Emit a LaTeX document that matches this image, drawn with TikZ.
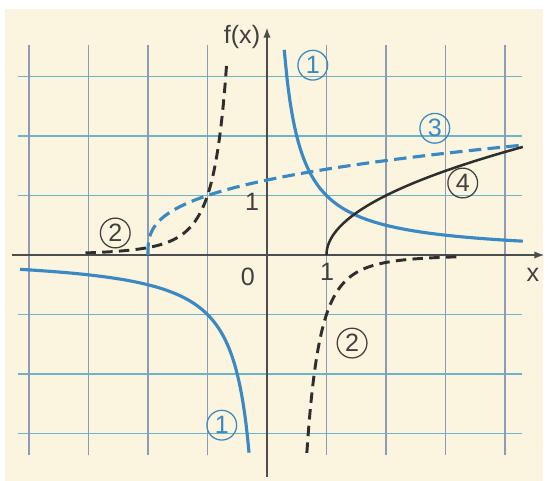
\documentclass[tikz,border=0pt]{standalone}
\usepackage{fontspec}
\setmainfont{Liberation Sans}
\usetikzlibrary{arrows.meta}
\definecolor{paper}{HTML}{FBF4DE}
\definecolor{hgrid}{HTML}{6DB3C9}
\definecolor{vgrid}{HTML}{8E9BB5}
\definecolor{curveblue}{HTML}{3A88C4}
\definecolor{ink}{HTML}{2E2E2E}
\definecolor{txt}{HTML}{404040}
\tikzset{
  hline/.style={hgrid, line width=0.9pt},
  vline/.style={vgrid, line width=0.9pt},
  axisline/.style={ink!85, line width=1.1pt},
  bluesolid/.style={curveblue, line width=1.5pt},
  bluedash/.style={curveblue, line width=1.5pt, dash pattern=on 6pt off 3pt},
  blacksolid/.style={ink, line width=1.2pt},
  blackdash/.style={ink, line width=1.4pt, dash pattern=on 5pt off 3pt},
  lab/.style={text=txt, font=\fontsize{12}{12}\selectfont, inner sep=0pt},
  circlab/.style={draw, circle, line width=0.6pt, minimum size=0.5cm, inner sep=0pt, font=\fontsize{12}{12}\selectfont},
}
\begin{document}
\begin{tikzpicture}[x=1cm,y=1cm]
\useasboundingbox (-4.487,-3.798) rectangle (4.723,4.286);
\fill[white] (-4.487,-3.798) rectangle (4.723,4.286);
\fill[paper] (-4.40,-3.798) rectangle (4.64,4.14);
% grid
\foreach \y in {-3,-2,-1,1,2,3} \draw[hline] (-4.18,\y) -- (4.29,\y);
\foreach \x in {-4,-3,-2,-1,1,2,3,4} \draw[vline] (\x,-3.36) -- (\x,3.53);
% axes
\coordinate (xs) at (-4.29,0);
\coordinate (xe) at (4.67,0);
\coordinate (ys) at (0,-3.73);
\coordinate (ye) at (0,3.83);
\draw[axisline, -{Latex[length=5pt,width=3.5pt]}] (xs) -- (xe);
\draw[axisline, -{Latex[length=5pt,width=3.5pt]}] (ys) -- (ye);
% curve 1: 1/x
\draw[bluesolid] plot[smooth, samples=80, domain=0.29:4.3] (\x,{1/\x});
\draw[bluesolid] plot[smooth, samples=80, domain=-4.15:-0.3] (\x,{1/\x});
% curve 2: -1/x^3
\draw[blackdash] plot[smooth, samples=80, domain=-3.05:-0.675] (\x,{-1/(\x*\x*\x)});
\draw[blackdash] plot[smooth, samples=80, domain=0.67:3.2] (\x,{-1/(\x*\x*\x)});
% curve 3: cube root of (x+2)
\draw[bluedash] plot[smooth, samples=80, variable=\t, domain=0:1.847] ({\t*\t*\t-2},{\t});
% curve 4: sqrt(x-1)
\draw[blacksolid] plot[smooth, samples=80, variable=\t, domain=0:1.817] ({1+\t*\t},{\t});
% labels
\node[lab] (fx) at (-0.42,3.66) {f(x)};
\node[lab] (xl) at (4.47,-0.34) {x};
\node[lab] (zero) at (-0.32,-0.37) {0};
\node[lab] (oney) at (-0.25,0.89) {1};
\node[lab] (onex) at (1.01,-0.29) {1};
% circled labels
\node[circlab, curveblue] (c1a) at (0.77,3.19) {1};
\node[circlab, curveblue] (c1b) at (-0.76,-2.86) {1};
\node[circlab, txt] (c2a) at (-2.55,0.37) {2};
\node[circlab, txt] (c2b) at (1.43,-1.48) {2};
\node[circlab, curveblue] (c3) at (2.82,2.13) {3};
\node[circlab, txt] (c4) at (3.29,1.21) {4};
\end{tikzpicture}
\end{document}
